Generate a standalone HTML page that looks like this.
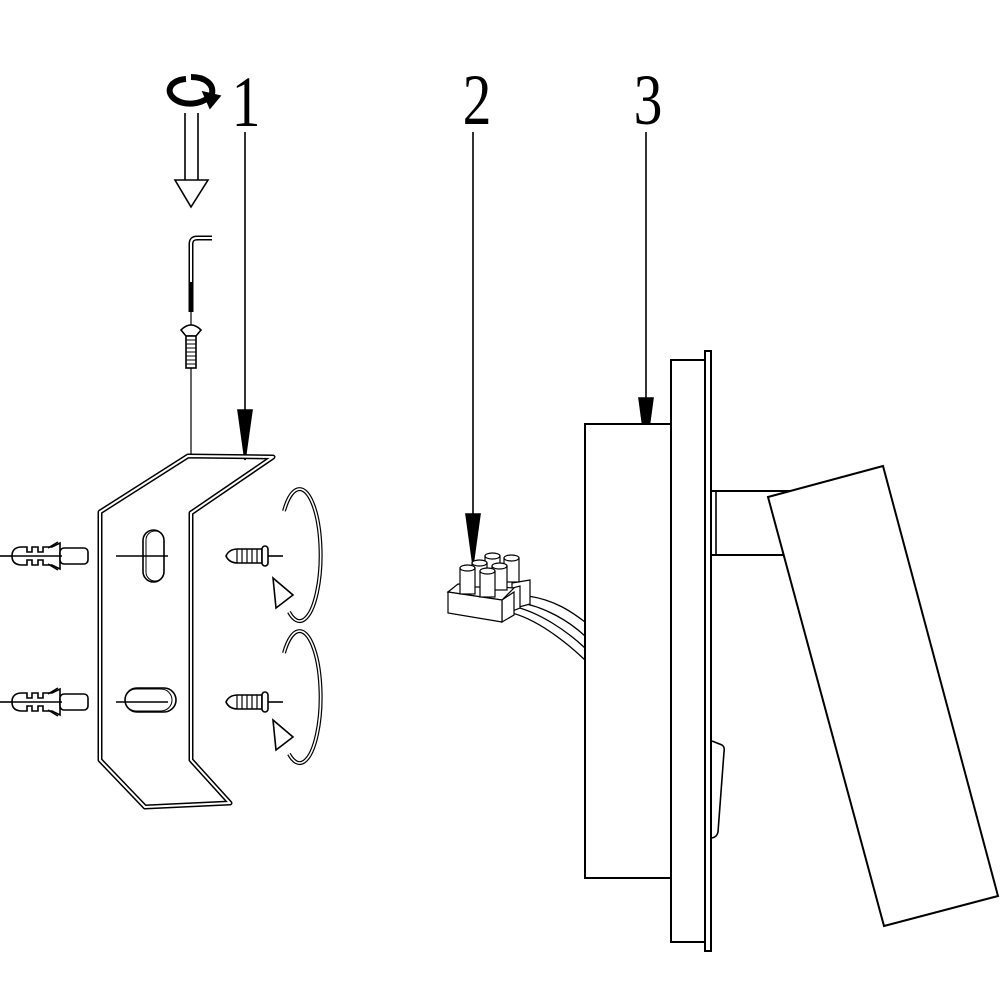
<!DOCTYPE html>
<html><head><meta charset="utf-8"><style>html,body{margin:0;padding:0;background:#fff}svg{display:block}</style></head>
<body>
<svg width="1000" height="1000" viewBox="0 0 1000 1000" xmlns="http://www.w3.org/2000/svg">
<g font-family="Liberation Serif, serif" font-size="72" fill="#000">
<text x="246" y="126" transform="translate(246 0) scale(0.8 1) translate(-246 0)" text-anchor="middle">1</text>
<text x="477" y="124" transform="translate(477 0) scale(0.8 1) translate(-477 0)" text-anchor="middle">2</text>
<text x="648" y="124" transform="translate(648 0) scale(0.8 1) translate(-648 0)" text-anchor="middle">3</text>
</g>
<g stroke="#000" stroke-width="1.6" fill="none">
<line x1="245" y1="132" x2="245" y2="420"/>
<polygon points="238,410 252,410 245,460" fill="#000"/>
<line x1="473" y1="132" x2="473" y2="520"/>
<polygon points="466,514 480,514 473,565" fill="#000"/>
<line x1="646" y1="132" x2="646" y2="405"/>
<polygon points="639,398 653,398 646,450" fill="#000"/>

<path d="M186,79 C170,80 164,92 176,100 C186,106 200,104 208,98" stroke-width="6"/>
<path d="M191,77 C205,77 214,84 212,94" stroke-width="6"/>
<polygon points="203,92 220,96 210,108" fill="#000"/>
<line x1="185" y1="113" x2="185" y2="180"/>
<line x1="198" y1="113" x2="198" y2="180"/>
<polygon points="175,180 208,180 191,207" fill="#fff"/>
<path d="M191,312 L191,244 Q191,238 197,238 L212,238" stroke-width="5"/>
<path d="M191,282 L191,244 Q191,238 197,238 L212,238" stroke="#fff" stroke-width="2"/>
<line x1="191" y1="312" x2="191" y2="457" stroke-width="1.2"/>
<path d="M181,330 Q191,320 201,330 L196,336 L186,336 Z" fill="#fff"/>
<rect x="186" y="336" width="10" height="32" fill="#fff"/>
<path d="M186,340 h10 M186,344 h10 M186,348 h10 M186,352 h10 M186,356 h10 M186,360 h10 M186,364 h10" stroke-width="1"/>

<path d="M188,456 L273,457 L191,513 L191,760 L230,803 L145,807 L100,760 L100,512 Z" stroke-width="5" stroke-linejoin="round"/>
<path d="M188,456 L273,457 L191,513 L191,760 L230,803 L145,807 L100,760 L100,512 Z" stroke="#fff" stroke-width="2" stroke-linejoin="round"/>
<rect x="143" y="530" width="21" height="52" rx="10.5" stroke-width="1.6"/>
<rect x="146" y="531" width="18" height="50" rx="9" stroke-width="1"/>
<rect x="125" y="688" width="51" height="24" rx="12" stroke-width="1.6"/>
<rect x="125" y="689" width="47" height="22" rx="11" stroke-width="1"/>
<line x1="116" y1="556" x2="168" y2="556"/>
<line x1="116" y1="702" x2="168" y2="702"/>

<g id="anc">
<line x1="0" y1="556" x2="14" y2="556"/>
<path d="M12,556 Q12,547 22,547 L27,547 L27,552 L32,552 L32,547 L38,547 L38,552 L43,552 L43,547 L52,547 L60,543 L60,569 L52,565 L43,565 L43,560 L38,560 L38,565 L32,565 L32,560 L27,560 L27,565 L22,565 Q12,565 12,556 Z" fill="#fff"/>
<path d="M48,548 L58,542 M48,564 L58,570" />
<rect x="60" y="548" width="28" height="16" rx="4" fill="#fff"/>
<line x1="12" y1="556" x2="62" y2="556"/>
</g>
<use href="#anc" y="146"/>

<g id="scr">
<path d="M226,556 Q229,549 238,549 L262,549 L262,563 L238,563 Q229,563 226,556 Z" fill="#fff"/>
<path d="M237,549 v14 M242,549 v14 M247,549 v14 M252,549 v14 M257,549 v14" stroke-width="1.2"/>
<rect x="262" y="546" width="6" height="20" rx="3" fill="#fff"/>
<line x1="268" y1="556" x2="283" y2="556"/>
</g>
<use href="#scr" y="146"/>

<g id="rot">
<path d="M284,511 A21,66 0 1,1 289,612" stroke-width="4"/>
<path d="M284,511 A21,66 0 1,1 289,612" stroke="#fff" stroke-width="1.6"/>
<polygon points="273,578 293,595 276,608" fill="#fff"/>
</g>
<use href="#rot" y="142"/>

<path d="M528,596 C555,600 572,612 585,622 M516,602 C545,606 570,622 585,636 M512,606 C540,612 568,632 585,648 M508,612 C536,618 566,642 585,660" stroke-width="1.3"/>
<g fill="#fff" stroke-width="1.2">
<polygon points="512,583 530,580 530,604 512,609"/>
<polygon points="505,590 520,586 520,608 505,614"/>
<polygon points="448,592 458,584 514,588 502,600"/>
<polygon points="502,600 514,592 514,615 502,622"/>
<polygon points="448,592 502,600 502,622 448,613"/>
<rect x="504" y="558" width="15" height="24"/><ellipse cx="511.5" cy="558" rx="7.5" ry="3"/>
<rect x="485" y="556" width="15" height="24"/><ellipse cx="492.5" cy="556" rx="7.5" ry="3"/>
<rect x="472" y="563" width="15" height="24"/><ellipse cx="479.5" cy="563" rx="7.5" ry="3"/>
<rect x="492" y="566" width="15" height="24"/><ellipse cx="499.5" cy="566" rx="7.5" ry="3"/>
<rect x="460" y="568" width="15" height="26"/><ellipse cx="467.5" cy="568" rx="7.5" ry="3"/>
<rect x="480" y="571" width="15" height="26"/><ellipse cx="487.5" cy="571" rx="7.5" ry="3"/>
</g>

<rect x="585" y="424" width="86" height="454" fill="#fff" stroke-width="2"/>
<rect x="671" y="360" width="34" height="582" fill="#fff" stroke-width="2"/>
<rect x="705" y="351" width="6" height="600" fill="#fff" stroke-width="2"/>
<rect x="711" y="491" width="80" height="64" fill="#fff" stroke-width="2"/>
<line x1="716" y1="491" x2="716" y2="555"/>
<polygon points="768,497 883,466 998,896 884,926" fill="#fff" stroke-width="2"/>
<path d="M712,741 L722,745 Q725,747 724,752 L718,832 Q717,837 712,838" stroke-width="1.6"/>
</g>
</svg>
</body></html>
